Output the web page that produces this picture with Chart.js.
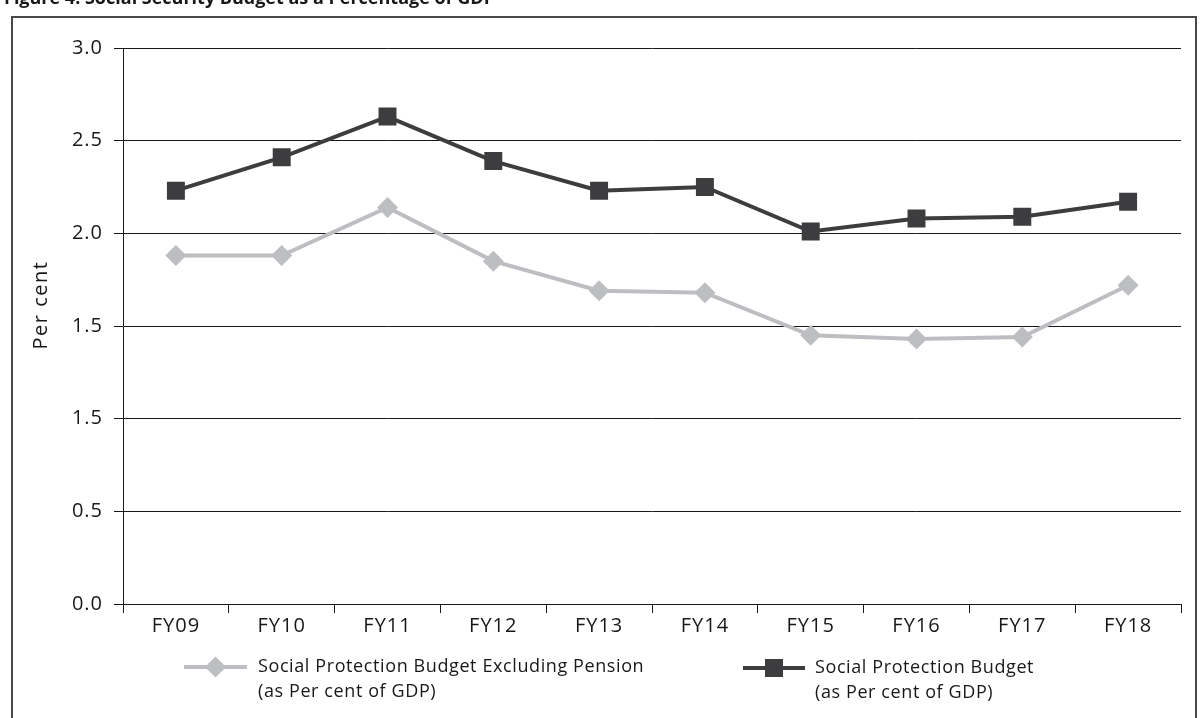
<!DOCTYPE html>
<html>
<head>
<meta charset="utf-8">
<script src="https://cdn.jsdelivr.net/npm/chart.js@4/dist/chart.umd.min.js"></script>
<style>
  html, body { margin: 0; padding: 0; background: #fff; overflow: hidden; }
  canvas { display: block; }
</style>
</head>
<body>
<canvas id="chart" width="1200" height="718"></canvas>
<script>
// Fiscal years on the category axis
const categories = ['FY09', 'FY10', 'FY11', 'FY12', 'FY13', 'FY14', 'FY15', 'FY16', 'FY17', 'FY18'];

// Social protection spending, per cent of GDP
const excludingPension = [1.88, 1.88, 2.14, 1.85, 1.69, 1.68, 1.45, 1.43, 1.44, 1.72];
const socialProtection = [2.23, 2.41, 2.63, 2.39, 2.23, 2.25, 2.01, 2.08, 2.09, 2.17];

// Value-axis labels, bottom to top, as printed in the figure
const yTickLabels = ['0.0', '0.5', '1.5', '1.5', '2.0', '2.5', '3.0'];

const seriesLabels = [
  ['Social Protection Budget Excluding Pension', '(as Per cent of GDP)'],
  ['Social Protection Budget', '(as Per cent of GDP)']
];

const FONT = '"Open Sans", "Noto Sans", sans-serif';
const INK = '#1a1718';
const LIGHT = '#bdbec1';
const DARK = '#3d3d3f';

// White page, outer frame and the figure caption
const pagePlugin = {
  id: 'page',
  beforeDraw(chart) {
    const ctx = chart.ctx;
    ctx.fillStyle = '#fff';
    ctx.fillRect(0, 0, chart.width, chart.height);
    ctx.save();
    ctx.strokeStyle = '#4a4a4c';
    ctx.lineWidth = 2;
    ctx.strokeRect(12, 17, 1184, 740);
    ctx.restore();
    // slightly open tracking for the axis labels
    ctx.letterSpacing = '1px';
  },
  afterDraw(chart) {
    const ctx = chart.ctx;
    ctx.save();
    ctx.letterSpacing = '0px';
    ctx.fillStyle = INK;
    ctx.font = 'bold 18px ' + FONT;
    ctx.textBaseline = 'alphabetic';
    ctx.textAlign = 'left';
    ctx.fillText('Figure 4: Social Security Budget as a Percentage of GDP', 4, 4);

    // vertical axis title
    ctx.letterSpacing = '1.5px';
    ctx.font = '20px ' + FONT;
    ctx.translate(41, 305);
    ctx.rotate(-Math.PI / 2);
    ctx.textAlign = 'center';
    ctx.textBaseline = 'middle';
    ctx.fillText('Per cent', 0, 0);
    ctx.restore();
  }
};

// Two-line legend drawn beneath the category axis
const legendSlots = [
  { x0: 184, x1: 247, textX: 258, y: 667 },
  { x0: 743, x1: 805, textX: 815, y: 668 }
];
const legendPlugin = {
  id: 'twoLineLegend',
  afterDraw(chart) {
    const ctx = chart.ctx;
    ctx.save();
    chart.data.datasets.forEach((ds, i) => {
      const s = legendSlots[i];
      const cx = (s.x0 + s.x1) / 2;
      ctx.strokeStyle = ds.borderColor;
      ctx.lineWidth = ds.borderWidth;
      ctx.beginPath();
      ctx.moveTo(s.x0, s.y);
      ctx.lineTo(s.x1, s.y);
      ctx.stroke();
      ctx.fillStyle = ds.pointBackgroundColor;
      ctx.beginPath();
      if (ds.pointStyle === 'rect') {
        const h = ds.pointRadius * Math.SQRT1_2;
        ctx.rect(cx - h, s.y - h, 2 * h, 2 * h);
      } else {
        const r = ds.pointRadius;
        ctx.moveTo(cx, s.y - r);
        ctx.lineTo(cx + r, s.y);
        ctx.lineTo(cx, s.y + r);
        ctx.lineTo(cx - r, s.y);
        ctx.closePath();
      }
      ctx.fill();
      ctx.fillStyle = INK;
      ctx.letterSpacing = '0.6px';
      ctx.font = '18px ' + FONT;
      ctx.textAlign = 'left';
      ctx.textBaseline = 'middle';
      seriesLabels[i].forEach((line, k) => ctx.fillText(line, s.textX, s.y + k * 25));
    });
    ctx.restore();
  }
};

new Chart(document.getElementById('chart'), {
  type: 'line',
  data: {
    labels: categories,
    datasets: [
      {
        label: seriesLabels[0].join(' '),
        data: excludingPension,
        borderColor: LIGHT,
        borderWidth: 4,
        pointStyle: 'rectRot',
        pointRadius: 10.5,
        pointBackgroundColor: LIGHT,
        pointBorderColor: LIGHT,
        pointBorderWidth: 0,
        tension: 0
      },
      {
        label: seriesLabels[1].join(' '),
        data: socialProtection,
        borderColor: DARK,
        borderWidth: 4,
        pointStyle: 'rect',
        pointRadius: 12.7,
        pointBackgroundColor: DARK,
        pointBorderColor: DARK,
        pointBorderWidth: 0,
        tension: 0
      }
    ]
  },
  options: {
    responsive: false,
    animation: false,
    devicePixelRatio: 1,
    layout: { padding: { top: 48, right: 19, left: 0, bottom: 0 } },
    plugins: {
      legend: { display: false },
      title: { display: false },
      tooltip: { enabled: false }
    },
    scales: {
      x: {
        offset: true,
        grid: { offset: true, drawOnChartArea: false, drawTicks: true, tickLength: 9, color: INK, lineWidth: 1 },
        border: { color: INK, width: 1 },
        ticks: { font: { family: FONT, size: 20 }, color: INK, padding: 1, maxRotation: 0, autoSkip: false },
        afterFit(scale) { scale.height = 114; }
      },
      y: {
        min: 0,
        max: 3,
        grid: { color: INK, lineWidth: 1, drawTicks: true, tickLength: 9 },
        border: { color: INK, width: 1 },
        ticks: {
          stepSize: 0.5,
          font: { family: FONT, size: 20 },
          color: INK,
          padding: 11,
          callback: (value, index) => yTickLabels[index]
        },
        afterFit(scale) { scale.width = 123; }
      }
    }
  },
  plugins: [pagePlugin, legendPlugin]
});
</script>
</body>
</html>
